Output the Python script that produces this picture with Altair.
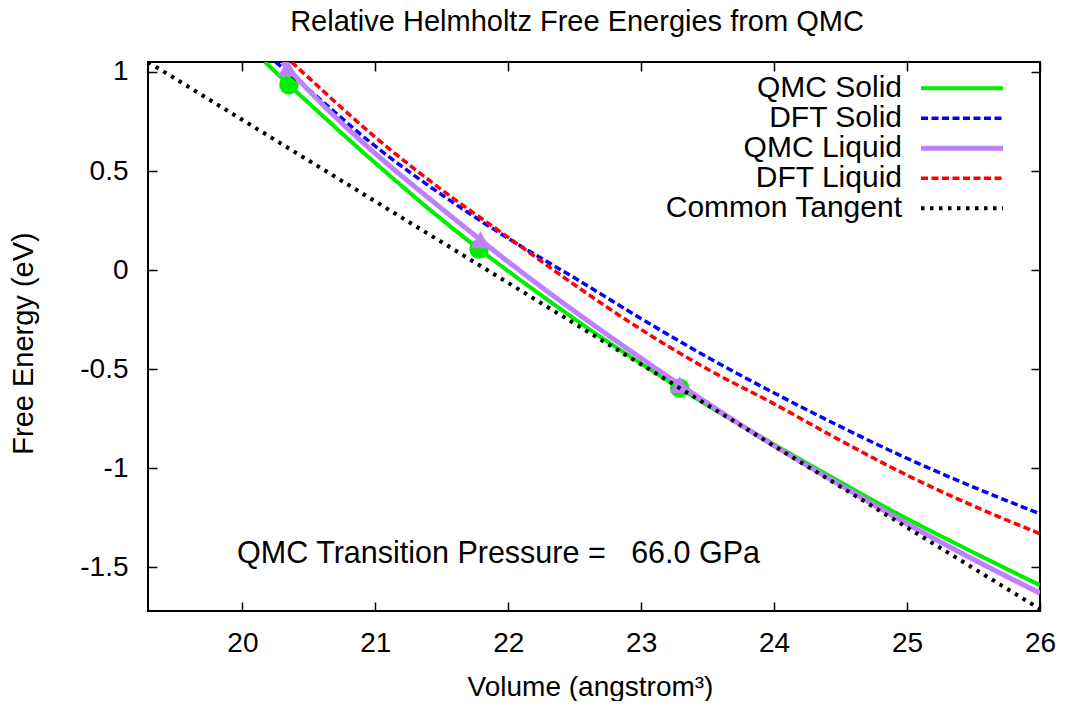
import altair as alt
import pandas as pd

# ---------------- data ----------------
qmc_solid_x = [20.17, 20.35, 20.7, 21.0, 21.4, 21.78, 22.2, 22.6, 23.0, 23.29, 23.6, 24.0, 24.5, 25.0, 25.5, 26.0]
qmc_solid_y = [1.05, 0.935, 0.72, 0.54, 0.31, 0.106, -0.104, -0.294, -0.472, -0.596, -0.722, -0.88, -1.07, -1.255, -1.425, -1.59]
qmc_solid_pts_x = [20.35, 21.78, 23.29]
qmc_solid_pts_y = [0.935, 0.106, -0.596]

dft_solid_x = [20.25, 20.5, 21.0, 21.5, 22.0, 22.5, 23.0, 23.5, 24.0, 24.5, 25.0, 25.5, 26.0]
dft_solid_y = [1.05, 0.91, 0.625, 0.38, 0.16, -0.04, -0.245, -0.44, -0.62, -0.79, -0.95, -1.095, -1.23]

qmc_liquid_x = [20.3, 20.34, 21.79, 23.29, 23.9, 24.5, 25.0, 25.5, 26.0]
qmc_liquid_y = [1.05, 1.02, 0.153, -0.578, -0.845, -1.085, -1.28, -1.46, -1.63]
qmc_liquid_pts_x = [20.34, 21.79, 23.29]
qmc_liquid_pts_y = [1.02, 0.153, -0.578]

dft_liquid_x = [20.37, 20.5, 21.0, 21.5, 22.0, 22.5, 23.0, 23.5, 24.0, 24.5, 25.0, 25.5, 26.0]
dft_liquid_y = [1.05, 0.97, 0.67, 0.405, 0.165, -0.075, -0.30, -0.50, -0.675, -0.86, -1.035, -1.19, -1.33]

tangent_x = [19.29, 26.0]
tangent_y = [1.05, -1.71]

x_ticks = [20, 21, 22, 23, 24, 25, 26]
y_ticks = [-1.5, -1.0, -0.5, 0.0, 0.5, 1.0]

annotation_x = [19.96]
annotation_y = [-1.43]
annotation_text = ["QMC Transition Pressure =\u00a0\u00a0\u00a066.0 GPa"]

legend_names = ["QMC Solid", "DFT Solid", "QMC Liquid", "DFT Liquid", "Common Tangent"]
title_text = "Relative Helmholtz Free Energies from QMC"

# ---------------- styling ----------------
FONT = "Liberation Sans"
W, H = 892, 549
GREEN, BLUE, PURPLE, RED, BLACK = "#00ee00", "#0000ff", "#bf80ff", "#ff0000", "#000000"
styles = {
    "QMC Solid": dict(color=GREEN, strokeWidth=4),
    "DFT Solid": dict(color=BLUE, strokeWidth=3.5, strokeDash=[7, 3.5]),
    "QMC Liquid": dict(color=PURPLE, strokeWidth=5),
    "DFT Liquid": dict(color=RED, strokeWidth=3.5, strokeDash=[7, 3.5]),
    "Common Tangent": dict(color=BLACK, strokeWidth=4, strokeDash=[3.5, 5.5]),
}

xs = alt.Scale(domain=[19.29, 26.0], nice=False, zero=False)
ys = alt.Scale(domain=[-1.72, 1.05], nice=False, zero=False)


def line_layer(xv, yv, name):
    df = pd.DataFrame({"x": xv, "y": yv})
    return alt.Chart(df).mark_line(clip=True, interpolate="monotone", **styles[name]).encode(
        x=alt.X("x:Q", scale=xs, axis=None),
        y=alt.Y("y:Q", scale=ys, axis=None),
    )


def point_layer(xv, yv, color, shape, size):
    df = pd.DataFrame({"x": xv, "y": yv})
    return alt.Chart(df).mark_point(filled=True, color=color, shape=shape, size=size, opacity=1, clip=True).encode(
        x=alt.X("x:Q", scale=xs, axis=None),
        y=alt.Y("y:Q", scale=ys, axis=None),
    )


common_axis = dict(
    tickSize=9, tickWidth=1.5, tickColor="black", offset=-9, domain=False, grid=False,
    labelFont=FONT, labelFontSize=28, labelColor="black", labelFlush=False,
    labelOverlap=False, labelBound=False, labelExpr="datum.value + ''",
    titleFont=FONT, titleFontWeight="normal", titleColor="black",
)

ax_bottom = alt.Axis(orient="bottom", values=x_ticks, labelPadding=18,
                     title="Volume (angstrom³)", titleFontSize=28, titleX=442, titleY=85,
                     titleBaseline="middle", titleAlign="center", **common_axis)
ax_left = alt.Axis(orient="left", values=y_ticks, labelPadding=20,
                   title="Free Energy (eV)", titleFontSize=29, titleX=-134, titleY=281, titleAngle=270,
                   titleBaseline="middle", titleAlign="center", **common_axis)
ax_top = alt.Axis(orient="top", values=x_ticks, labels=False, title=None,
                  tickSize=9, tickWidth=1.5, tickColor="black", offset=-9, domain=False, grid=False)
ax_right = alt.Axis(orient="right", values=y_ticks, labels=False, title=None,
                    tickSize=9, tickWidth=1.5, tickColor="black", offset=-9, domain=False, grid=False)

tan_df = pd.DataFrame({"x": tangent_x, "y": tangent_y})
one_row = pd.DataFrame({"k": [0]})

axes_a = alt.Chart(tan_df).mark_point(opacity=0).encode(
    x=alt.X("x:Q", scale=xs, axis=ax_bottom), y=alt.Y("y:Q", scale=ys, axis=ax_left))
axes_b = alt.Chart(tan_df).mark_point(opacity=0).encode(
    x=alt.X("x:Q", scale=xs, axis=ax_top), y=alt.Y("y:Q", scale=ys, axis=ax_right))

layers = [
    axes_a,
    axes_b,
    line_layer(qmc_solid_x, qmc_solid_y, "QMC Solid"),
    point_layer(qmc_solid_pts_x, qmc_solid_pts_y, GREEN, "circle", 380),
    line_layer(dft_solid_x, dft_solid_y, "DFT Solid"),
    line_layer(qmc_liquid_x, qmc_liquid_y, "QMC Liquid"),
    point_layer(qmc_liquid_pts_x, qmc_liquid_pts_y, PURPLE, "triangle-up", 380),
    line_layer(dft_liquid_x, dft_liquid_y, "DFT Liquid"),
    line_layer(tangent_x, tangent_y, "Common Tangent"),
]

# annotation
ann_df = pd.DataFrame({"x": annotation_x, "y": annotation_y, "t": annotation_text})
layers.append(
    alt.Chart(ann_df).mark_text(align="left", baseline="middle", font=FONT, fontSize=30.5, color="black").encode(
        x=alt.X("x:Q", scale=xs, axis=None), y=alt.Y("y:Q", scale=ys, axis=None), text="t:N")
)

# chart title (drawn as text above the plot area)
layers.append(
    alt.Chart(one_row).mark_text(text=title_text, align="center", baseline="alphabetic", font=FONT,
                                  fontSize=29, color="black").encode(
        x=alt.value(429), y=alt.value(-31))
)

# legend (inside plot, top right)
LEG_TEXT_X, LEG_LINE_X0, LEG_LINE_X1, LEG_Y0, LEG_DY = 754, 773, 855, 26.3, 30
for i, name in enumerate(legend_names):
    yy = LEG_Y0 + i * LEG_DY
    layers.append(
        alt.Chart(one_row).mark_text(text=name, align="right", baseline="middle", font=FONT,
                                      fontSize=30, color="black").encode(
            x=alt.value(LEG_TEXT_X), y=alt.value(yy))
    )
    layers.append(
        alt.Chart(one_row).mark_rule(**styles[name]).encode(
            x=alt.value(LEG_LINE_X0), x2=alt.value(LEG_LINE_X1), y=alt.value(yy))
    )

chart = alt.layer(*layers).resolve_axis(x="independent", y="independent").properties(
    width=W, height=H,
    padding={"left": 140, "top": 54, "right": 16, "bottom": 90},
    autosize=alt.AutoSizeParams(type="none"),
    background="white",
).configure_view(stroke="black", strokeWidth=2)

chart.save("out.html", embed_options={"renderer": "svg", "actions": False})
